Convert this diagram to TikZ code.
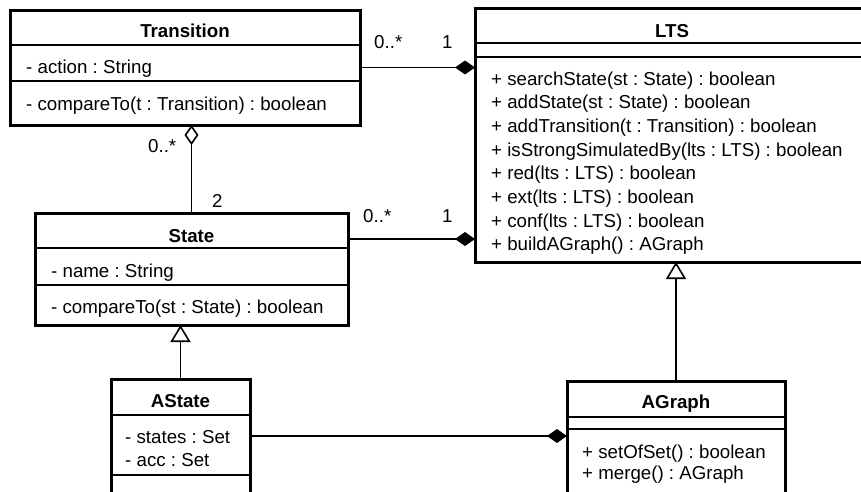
\documentclass[tikz,border=0pt]{standalone}
\usepackage{fontspec}
\setmainfont{Liberation Sans}
\usepackage{tikz}
\usetikzlibrary{shapes,arrows}
\usetikzlibrary{arrows.meta}
\usetikzlibrary{calc}
\usetikzlibrary{positioning}
\frenchspacing
\newcommand{\umlfont}{\fontsize{18.7}{23.7}\selectfont}
\tikzstyle{umlclass} = [draw, line width=3pt, rectangle, anchor=north west,
    inner sep=0pt, outer sep=0pt]
\tikzstyle{divider} = [line width=1.5pt]
\tikzstyle{classname} = [font=\umlfont\bfseries, anchor=base, inner sep=0pt]
\tikzstyle{member} = [anchor=base west, inner sep=0pt]
\tikzstyle{mult} = [anchor=base west, inner sep=0pt]
\tikzstyle{link} = [line width=1.6pt]
\tikzstyle{compose} = [link, -{Diamond[length=20pt,width=14pt]}]
\tikzstyle{aggregate} = [link, -{Diamond[open,length=20pt,width=14pt]}]
\tikzstyle{inherit} = [link, -{Triangle[open,length=17pt,width=20pt]}]

\begin{document}
\begin{tikzpicture}[x=1pt, y=-1pt, >=latex', font=\umlfont]
    \path[use as bounding box, clip] (0,0) rectangle (861,491);

    % We start by placing the classes
    \node [umlclass, minimum width=350pt, minimum height=115pt] (transition) at (10,10) {};
    \node [umlclass, minimum width=394pt, minimum height=254pt] (lts) at (475,8) {};
    \node [umlclass, minimum width=313pt, minimum height=112pt] (state) at (35,213) {};
    \node [umlclass, minimum width=139pt, minimum height=130pt] (astate) at (111,379) {};
    \node [umlclass, minimum width=218pt, minimum height=130pt] (agraph) at (567,381) {};

    % Compartments
    \draw [divider] ([yshift=-35pt]transition.north west) -- ([yshift=-35pt]transition.north east);
    \draw [divider] ([yshift=-71pt]transition.north west) -- ([yshift=-71pt]transition.north east);
    \draw [divider] ([yshift=-35pt]lts.north west) -- ([yshift=-35pt]lts.north east);
    \draw [divider] ([yshift=-49pt]lts.north west) -- ([yshift=-49pt]lts.north east);
    \draw [divider] ([yshift=-35pt]state.north west) -- ([yshift=-35pt]state.north east);
    \draw [divider] ([yshift=-72pt]state.north west) -- ([yshift=-72pt]state.north east);
    \draw [divider] ([yshift=-36pt]astate.north west) -- ([yshift=-36pt]astate.north east);
    \draw [divider] ([yshift=-96pt]astate.north west) -- ([yshift=-96pt]astate.north east);
    \draw [divider] ([yshift=-36pt]agraph.north west) -- ([yshift=-36pt]agraph.north east);
    \draw [divider] ([yshift=-48pt]agraph.north west) -- ([yshift=-48pt]agraph.north east);

    % Class contents
    \node [classname] (transition-name) at (185,37) {Transition};
    \node [member] (transition-attr) at (26,73) {- action : String};
    \node [member] (transition-op) at (26,110) {- compareTo(t : Transition) : boolean};

    \node [classname] (lts-name) at (672,37) {LTS};
    \foreach \op [count=\i from 0] in {%
        + searchState(st : State) : boolean,
        + addState(st : State) : boolean,
        + addTransition(t : Transition) : boolean,
        + isStrongSimulatedBy(lts : LTS) : boolean,
        + red(lts : LTS) : boolean,
        + ext(lts : LTS) : boolean,
        + conf(lts : LTS) : boolean,
        + buildAGraph() : AGraph}
        \node [member] (lts-op\i) at (491,85+23.7*\i) {\op};

    \node [classname] (state-name) at (191.5,242) {State};
    \node [member] (state-attr) at (51,277) {- name : String};
    \node [member] (state-op) at (51,313) {- compareTo(st : State) : boolean};

    \node [classname] (astate-name) at (180.5,407) {AState};
    \node [member] (astate-attr1) at (125,443) {- states : Set};
    \node [member] (astate-attr2) at (125,466) {- acc : Set};

    \node [classname] (agraph-name) at (676,408) {AGraph};
    \node [member] (agraph-op1) at (582,458) {+ setOfSet() : boolean};
    \node [member] (agraph-op2) at (582,479) {+ merge() : AGraph};

    % Once the classes are placed, connecting them is easy.
    \coordinate (statelink) at ([yshift=-26pt]state.north east);
    \coordinate (astatelink) at ([yshift=-57pt]astate.north east);
    \draw [compose] (transition.east) -- (transition.east -| lts.west);
    \draw [compose] (statelink) -- (statelink -| lts.west);
    \draw [aggregate] (state.north) -- (state.north |- transition.south);
    \draw [inherit] (astate.north) -- (astate.north |- state.south);
    \draw [inherit] (agraph.north) -- (agraph.north |- lts.south);
    \draw [compose] (astatelink) -- (astatelink -| agraph.west);

    % Multiplicities
    \node [mult] (m-trans-a) at (374,48) {0..*};
    \node [mult] (m-trans-b) at (442,48) {1};
    \node [mult] (m-agg-a) at (148,152) {0..*};
    \node [mult] (m-agg-b) at (212,207) {2};
    \node [mult] (m-state-a) at (363,222) {0..*};
    \node [mult] (m-state-b) at (442,222) {1};
\end{tikzpicture}
\end{document}
